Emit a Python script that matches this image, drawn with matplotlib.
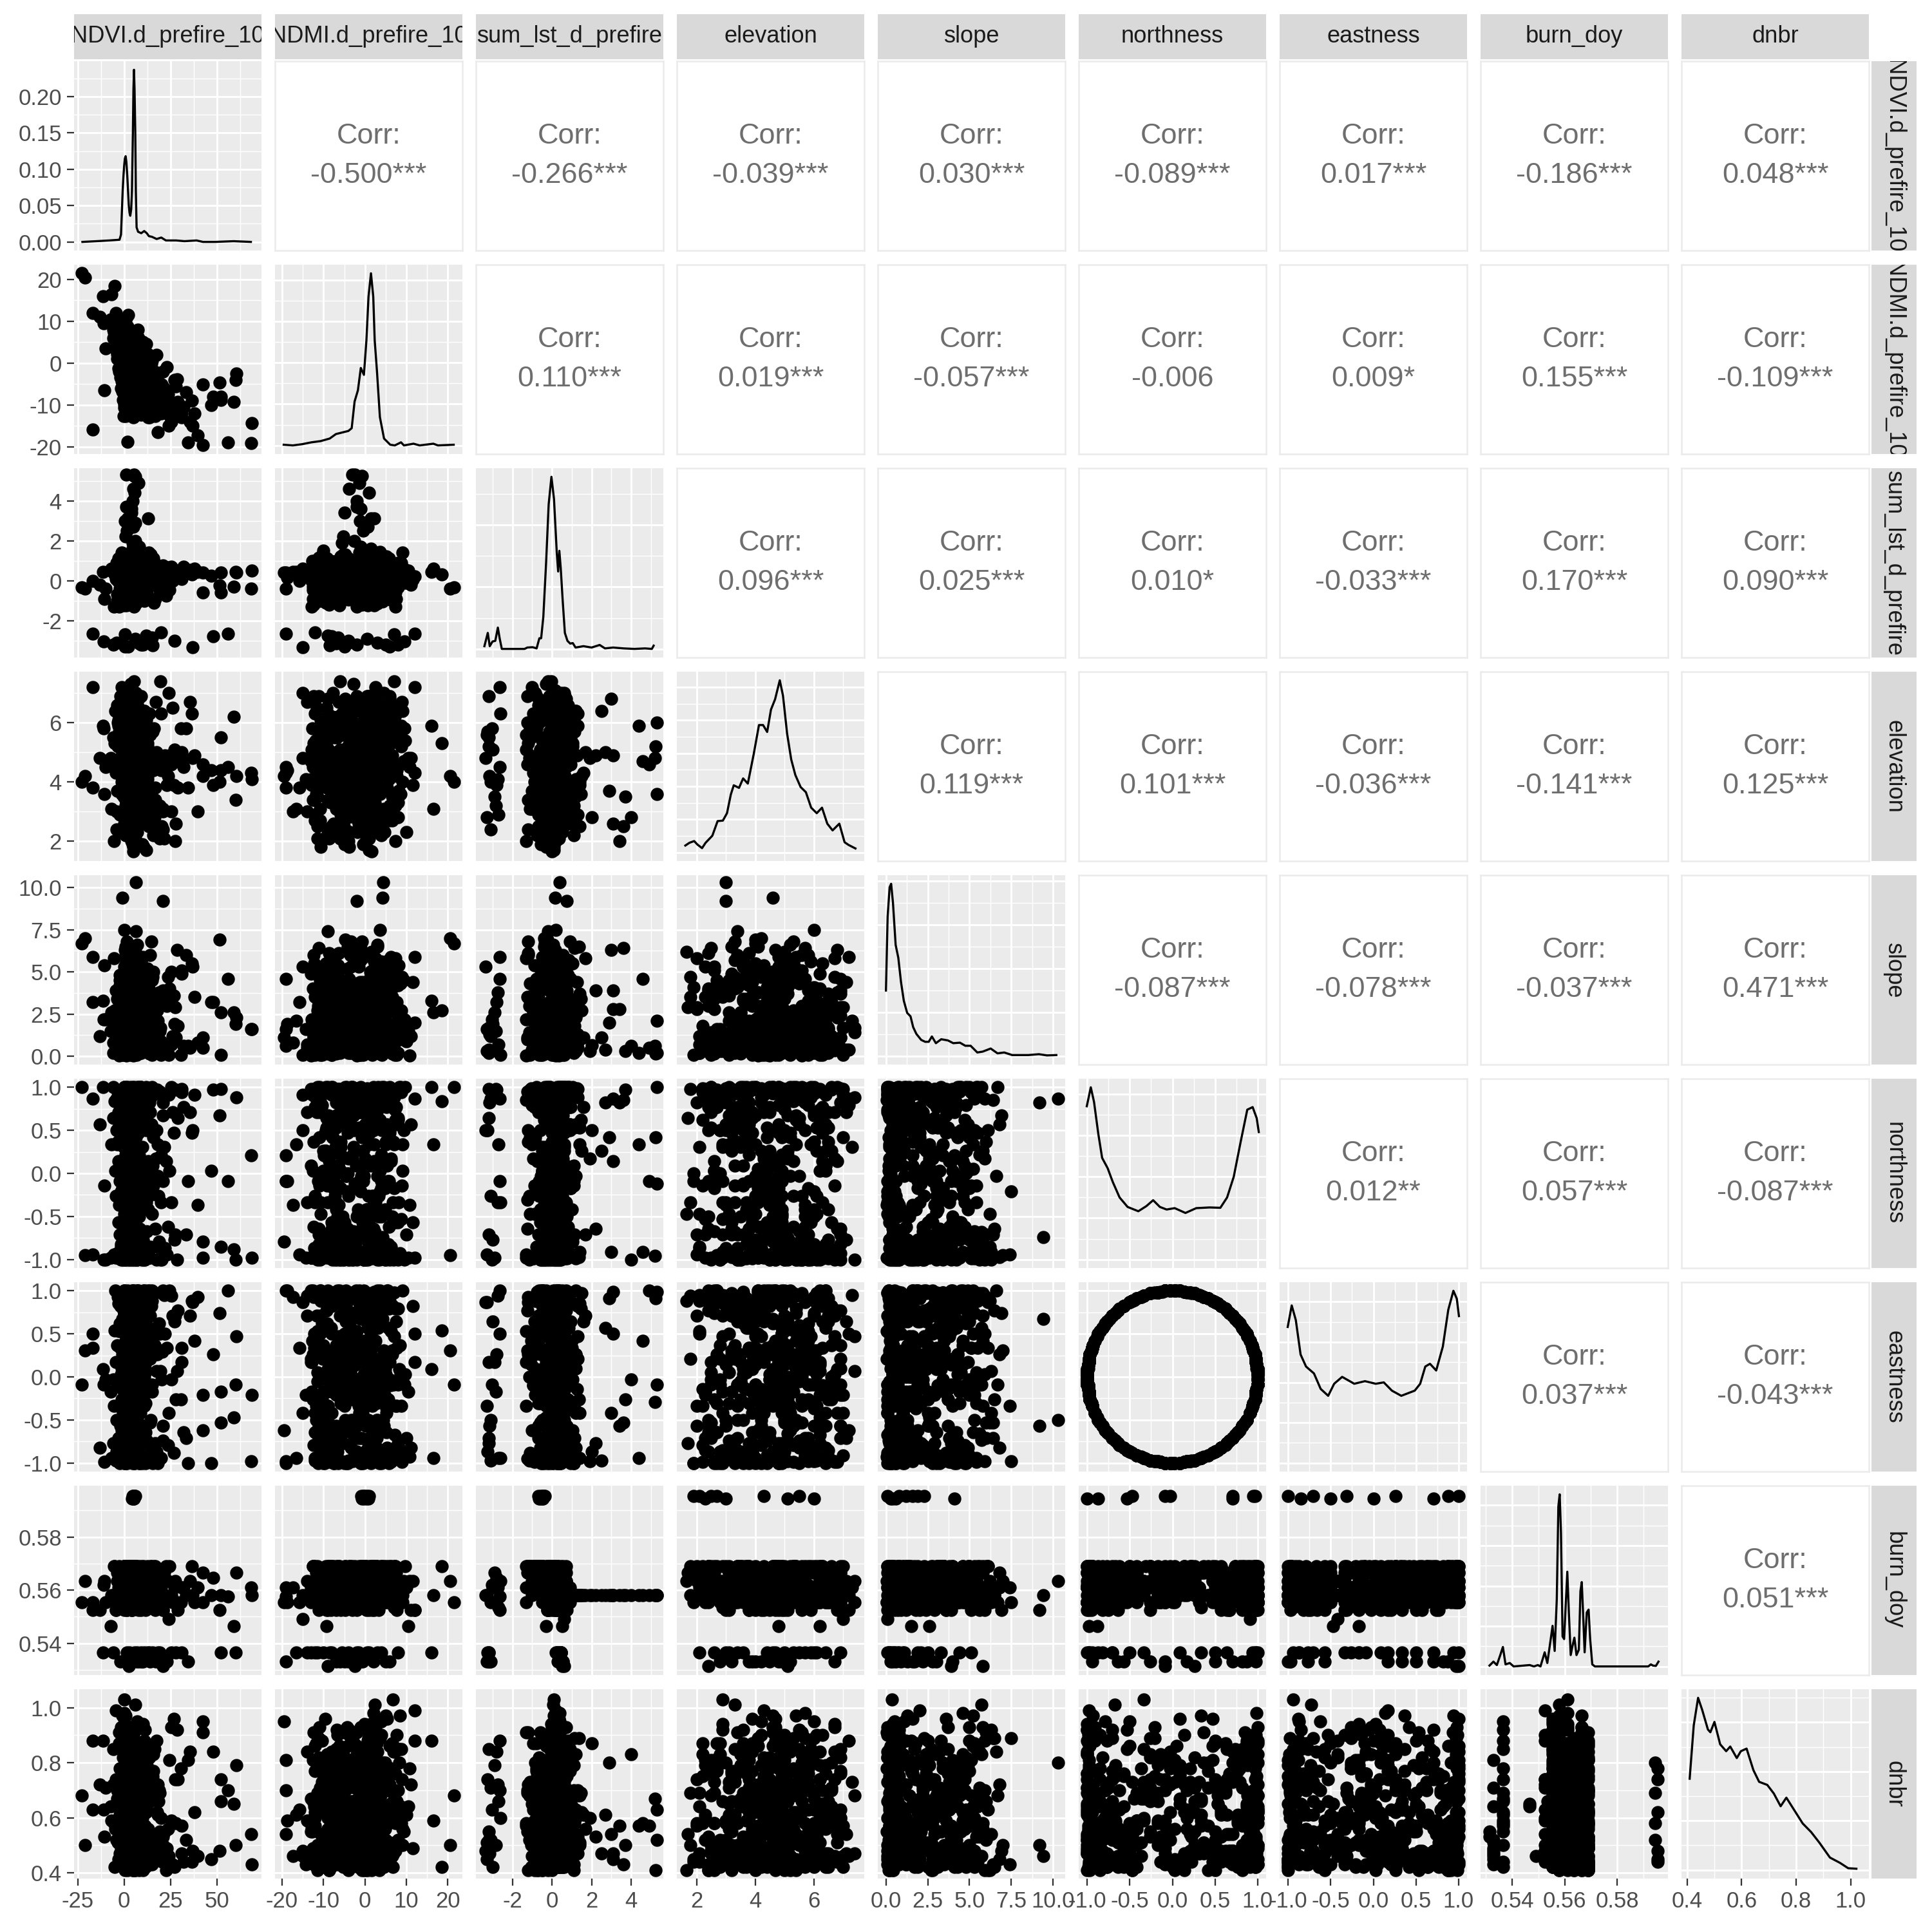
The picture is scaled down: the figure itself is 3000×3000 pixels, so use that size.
import matplotlib
matplotlib.use("Agg")
import matplotlib.pyplot as plt
from matplotlib.ticker import FormatStrFormatter

plt.rcParams['font.family'] = ['Liberation Sans', 'DejaVu Sans']

# ---------------------------------------------------------------- data
var_names = ["NDVI.d_prefire_10", "NDMI.d_prefire_10", "sum_lst_d_prefire",
             "elevation", "slope", "northness", "eastness", "burn_doy", "dnbr"]

# observations: main cloud (200), burn_doy ~0.595 (10), burn_doy ~0.535 (30),
# cold-lst group (14), dense core (240)
ndvi = [
    0.8, 5.2, 11.3, -2.5, 4.6, 0.2, 22.0, 6.1, 1.4, 8.7,
    5.7, -0.6, 3.9, 13.8, 0.5, 6.6, -5.1, 1.1, 4.9, 17.5,
    9.6, 0.0, 5.4, 2.3, -23.0, 4.2, 0.9, 12.4, 6.8, -1.3,
    1.7, 7.4, 0.3, 5.9, 27.5, -3.4, 4.4, 10.2, 0.6, 38.0,
    6.2, -0.9, 14.6, 0.4, 5.0, 3.7, 8.1, -7.2, 1.2, 5.5,
    0.1, 4.8, 19.5, 6.4, -1.8, 52.0, 1.5, 9.1, 4.1, 0.7,
    5.3, 11.9, -0.2, 6.9, 2.0, 4.5, 33.5, 0.9, -4.3, 7.7,
    -17.0, 5.8, 1.0, 15.8, 4.7, -0.4, 6.3, 24.0, 0.2, 9.9,
    4.0, 0.6, 7.1, -2.9, 5.1, 13.1, 1.3, 42.5, 6.0, -0.7,
    1.9, 6.7, -10.8, 4.3, 0.4, 8.4, 5.6, 21.0, -1.1, 3.5,
    0.0, 5.0, 10.7, 1.6, 59.0, 4.9, -6.0, 6.5, 0.8, 16.4,
    7.9, -0.3, 4.6, 2.7, 12.9, 5.7, -21.0, 0.5, 29.0, 6.2,
    1.2, 4.4, -2.2, 9.3, 5.2, 0.3, 36.5, 6.8, 11.0, -0.8,
    5.5, 0.9, 68.8, 3.8, 7.0, -3.8, 1.4, 14.2, 4.8, 0.2,
    -10.0, 6.1, 0.7, 18.6, 5.4, 2.5, -0.5, 8.9, 39.6, 4.2,
    0.6, 51.6, 5.9, -1.5, 12.0, 4.7, 1.8, 25.5, 6.6, -4.9,
    4.5, 0.1, 7.6, 60.5, -0.1, 5.3, 10.4, 1.0, -13.0, 6.0,
    2.9, 5.8, 0.4, 15.1, 4.1, 47.0, -2.6, 6.4, 1.3, 9.5,
    6.9, -0.9, 3.2, 0.6, 20.5, 5.1, 68.3, 11.6, 0.0, 4.6,
    1.1, 31.0, 5.6, -6.8, 8.2, 0.3, 4.0, 13.5, 42.5, 2.1,
    4.6, 5.3, 5.0, 4.8, 5.6, 4.9, 5.2, 4.4, 5.8, 5.1,
    5.5, 14.0, -6.0, 21.0, 1.5, 9.5, 31.0, 3.0, 17.0, 52.0,
    0.5, 12.5, 6.5, 25.5, -11.5, 8.0, 19.0, 2.5, 34.5, 11.0,
    4.5, 60.0, 15.5, -2.0, 28.0, 7.0, 23.0, 13.5, 10.0, 18.0,
    -17.0, 2.0, 12.0, -4.0, 20.0, 6.0, 37.0, 0.5, 27.0, 48.0, 9.0, 56.0, 15.0, -11.0,
    3.2, -1.8, 8.8, 0.4, 12.6, 5.9, -3.5, 2.4, 16.8, 6.3,
    0.9, 10.1, 4.4, -0.2, 7.3, 1.8, 14.9, 5.1, -2.7, 9.2,
    6.6, 2.2, -1.0, 11.4, 3.9, 0.6, 7.9, 19.8, 4.7, 1.5,
    -3.0, 8.1, 5.6, 13.3, 0.2, 6.9, 2.8, -1.4, 10.8, 4.2,
    7.2, 0.5, 17.9, 3.6, 9.9, -0.7, 5.3, 1.2, 26.0, 8.5,
    2.0, 12.2, 6.1, -2.1, 4.9, 15.4, 0.8, 7.6, 3.3, 11.7,
    5.8, -0.4, 9.5, 1.9, 6.4, 22.5, 3.0, -4.0, 8.3, 0.1,
    13.9, 4.5, 0.3, 7.0, -1.6, 10.5, 5.4, 2.6, 18.7, 6.2,
    1.4, 8.9, 3.7, 32.0, 0.7, 6.7, 11.1, -2.4, 4.0, 9.7,
    7.8, 2.9, 14.3, 5.0, -0.9, 1.0, 12.8, 6.0, 3.4, 20.9,
    -1.2, 6.8, 4.1, 9.0, 1.6, 16.1, 5.5, 0.0, 7.4, 28.5,
    4.8, 11.9, -2.9, 3.1, 8.6, 0.4, 6.5, 13.0, 2.3, 5.7,
    2.7, 9.4, -0.5, 5.0, 15.7, 1.1, 7.5, -3.8, 4.3, 23.8,
    6.0, 0.2, 11.6, 3.4, -1.6, 8.0, 4.6, 18.2, 1.8, 6.9,
    -2.3, 5.2, 13.7, 0.9, 7.1, 2.5, 10.3, 5.9, -4.6, 16.9,
    4.1, 8.7, 1.4, 21.7, 6.2, -0.8, 3.0, 12.1, 5.6, 0.4,
    9.8, 2.1, 6.7, -2.0, 14.5, 4.4, 0.7, 7.9, 30.5, 3.7,
    1.0, 6.4, 17.4, 4.8, 10.9, -1.1, 5.3, 2.8, 8.4, 35.5,
    7.0, -3.2, 3.6, 12.7, 0.5, 5.8, 9.1, 1.7, 19.3, 4.9,
    0.0, 11.3, 6.1, 2.2, -0.3, 15.0, 4.0, 8.2, 1.3, 26.8,
    5.4, 3.1, -1.9, 9.6, 6.8, 0.6, 13.3, 2.4, 7.3, -5.5,
    12.4, 4.7, 1.5, 6.5, 20.1, 3.3, -0.9, 10.0, 5.1, 0.3,
    8.5, 0.8, 5.7, 14.0, 2.9, 7.7, -2.6, 4.2, 11.0, 1.9,
    3.9, 16.3, 6.3, 0.1, 9.0, 4.5, 2.0, 24.5, -1.3, 7.6,
]
ndmi = [
    3.1, -2.4, -6.8, 4.0, 1.5, 7.2, -8.0, -0.6, 2.2, -4.5,
    0.9, 5.8, -3.7, -9.5, -1.2, 2.5, 18.5, 10.8, -10.6, 2.0,
    -2.9, 1.8, -7.5, 0.4, 21.5, 3.6, -5.2, -12.1, 1.2, 2.5,
    -18.8, -5.9, 4.6, -1.6, -4.0, 5.0, 7.6, -0.2, -8.3, -12.0,
    -11.2, 8.4, -3.3, 0.0, 2.9, -6.6, 3.3, 10.5, -2.0, -4.8,
    -9.8, 0.6, -6.0, 4.4, -1.0, -8.8, 6.5, -8.2, 1.9, -3.4,
    -0.8, 1.0, -12.6, -3.1, 11.5, -5.5, -7.0, 3.9, 12.0, 0.3,
    -15.8, 2.7, -6.1, -11.0, -1.9, 0.8, -9.0, -15.0, 5.4, -5.0,
    3.2, -4.2, 6.0, 8.0, -13.0, -1.4, -0.4, -5.1, -7.0, -8.8,
    1.4, -0.1, -6.5, -8.6, 9.6, -10.2, 4.8, -2.0, 0.2, -2.7,
    6.8, -3.9, -11.7, -10.9, -9.2, 1.6, 6.0, -5.3, -0.9, -7.0,
    -1.0, -7.1, 0.5, 3.4, 2.2, -12.4, 20.5, 2.8, -9.2, 5.6,
    -3.0, 2.3, 10.0, -9.7, -4.4, 1.1, -9.0, -1.7, 0.7, 4.2,
    1.4, -10.4, -14.3, -5.0, 3.0, 1.0, 0.3, -4.7, -8.1, 2.0,
    3.5, -2.6, 5.0, -12.0, 7.0, -3.5, -1.4, 1.7, -17.3, -6.0,
    -2.3, -4.7, -4.0, 6.0, -7.8, 0.0, 8.8, -11.0, -11.5, 9.0,
    5.2, -5.6, -1.3, -2.5, 3.6, -9.1, -3.8, 1.5, 11.0, 2.4,
    -7.9, 0.1, -0.5, 0.6, -12.0, -10.0, -2.0, -6.3, 4.5, 2.8,
    -2.2, -3.6, 1.2, 7.9, -10.0, -0.3, -19.1, -5.8, -1.5, 4.1,
    0.4, -13.0, -6.4, 16.5, -3.0, -10.8, -1.1, 0.9, -19.5, 5.9,
    -0.4, 0.3, -0.9, 0.8, 0.1, -0.2, 0.5, -0.7, 1.0, -0.3,
    -1.5, -6.0, 8.0, -9.0, 3.0, -4.0, -12.0, 0.5, -3.0, -8.0,
    6.0, -10.0, 2.0, -14.0, 16.0, -7.0, -11.5, -2.5, -19.0, 1.0,
    -5.0, -4.0, -8.5, -0.5, -5.5, 4.0, -1.0, -13.0, 5.0, -16.5,
    12.0, -5.0, -9.0, 3.0, -12.0, 0.5, -15.0, 7.0, -4.0, -8.0, -2.0, -19.0, -6.5, 9.5,
    -4.5, 6.2, -8.4, 2.9, -6.1, 1.8, 8.7, -7.8, -11.2, -0.5,
    4.9, -2.3, -9.6, 0.7, 3.6, -3.9, -8.0, 5.5, 2.0, -12.3,
    -6.8, 7.5, -1.9, -4.1, 1.3, -10.2, -2.6, -5.7, 3.8, -0.8,
    5.4, -9.0, 0.2, -7.2, -4.8, 6.6, 2.6, 9.1, -10.8, -3.1,
    2.1, -7.4, -3.3, 4.4, -5.9, 1.0, -12.8, 8.1, -11.6, -1.2,
    -2.9, -11.0, 5.1, 7.7, -0.2, -6.5, -5.4, -8.9, 3.0, 0.9,
    -4.0, 3.2, 1.7, -9.3, -1.8, -8.6, 6.9, 4.1, -6.3, -3.6,
    -1.5, 2.4, 0.5, -11.8, -6.0, -4.6, 7.3, -2.2, -9.1, -7.7,
    8.3, -0.6, -5.0, -10.5, -12.4, 4.3, -7.5, 1.4, -8.2, 2.7,
    -3.8, -9.9, -5.2, 6.1, 3.9, -1.0, 0.3, -10.1, 1.1, -6.9,
    -4.3, 0.1, -7.0, -2.7, 5.8, -9.4, -3.3, -6.7, 7.9, -3.9,
    -1.1, 4.6, 3.4, -11.5, -8.1, 0.6, 5.2, -12.9, -4.1, 2.2,
    1.5, -5.2, 6.8, -2.4, -9.1, 3.9, -11.9, 2.2, -6.6, -7.4,
    -0.3, -2.8, -12.0, 7.1, 4.5, -3.3, 2.7, -4.4, -8.7, 5.0,
    9.4, -7.9, -5.5, 0.3, -10.6, 5.6, 1.4, -4.7, 3.3, -12.6,
    -1.7, 2.0, -10.3, -6.0, 6.3, -5.9, -3.7, -8.3, 0.8, 8.0,
    -6.9, 4.2, -12.2, 1.9, 0.0, -3.0, -7.6, 3.5, -10.4, 6.5,
    -4.8, 1.2, -7.3, 5.3, -2.1, 2.9, -9.4, -0.7, -11.3, -14.0,
    4.7, -1.3, -5.8, -9.9, 8.6, -2.5, 0.6, -11.1, -6.4, 2.5,
    -8.0, -3.9, 7.4, -4.2, 3.0, -10.9, 1.0, -6.2, 5.7, -9.6,
    -9.5, 3.7, -3.4, 0.4, -1.9, -12.7, -2.9, 6.9, -7.0, 7.3,
    -0.9, -11.4, 8.9, -4.6, -5.1, 1.8, -6.8, -8.5, 4.0, -2.6,
    0.9, -1.0, -8.8, -3.6, -12.4, 6.0, 2.8, -5.3, -10.0, 4.8,
    6.2, -2.0, -4.3, -10.7, 3.1, -7.8, 0.2, -12.5, 1.6, -9.2,
]
sum_lst = [
    -0.1, 5.3, 0.35, -0.4, 1.6, 0.05, 0.6, 0.3, -0.2, 0.45,
    4.4, 0.1, -0.7, 0.5, 3.0, -0.05, 0.3, 0.2, -0.3, 0.8,
    0.4, -0.15, 0.0, 0.55, -0.35, 0.25, 2.2, 0.7, 0.35, -1.0,
    0.15, 0.45, -0.25, 5.2, 0.2, 0.0, 0.4, -0.5, 0.1, 0.6,
    -0.05, 0.3, 0.9, -0.6, 0.35, 0.05, -0.1, 0.5, 3.7, 1.3,
    0.25, 2.7, -0.2, 0.4, 0.0, -0.6, 0.7, 0.15, -0.45, 0.35,
    5.25, 0.1, -0.3, 0.45, 0.05, 1.9, 0.55, -0.75, 0.2, -0.1,
    0.0, 0.4, -1.25, 0.3, 4.0, 0.1, -0.2, 0.6, 0.35, 0.05,
    0.5, -0.4, 0.25, 0.0, 0.35, 1.4, 2.5, -0.6, 0.15, -0.05,
    3.1, 0.3, -0.9, 0.2, -0.1, 0.45, 0.05, 0.75, 0.4, -0.3,
    0.1, 4.6, 0.35, -0.5, -0.3, 0.0, 0.6, 0.25, -0.15, 0.9,
    1.7, 0.45, 0.05, -0.35, 3.1, 0.3, -0.4, 0.1, 0.5, -0.05,
    5.3, 0.2, 0.4, -0.2, 0.65, 0.0, 0.3, -1.1, 0.35, 0.15,
    -0.25, 0.5, 0.5, 3.4, 0.05, -0.7, 0.35, 0.2, 0.0, 0.4,
    -0.4, 2.0, 0.1, 0.3, -0.05, 0.55, 0.25, -0.3, 0.45, 0.0,
    0.35, -0.25, 1.1, 0.15, 0.4, -0.1, 0.05, 0.7, -0.55, 0.3,
    0.0, 0.45, 4.9, 0.4, 0.2, -0.35, 0.1, 0.6, -0.2, 0.05,
    0.3, 2.9, -0.1, 0.5, 0.35, 0.25, -1.3, 0.0, 0.45, -0.6,
    0.15, 0.4, -0.05, 0.2, 0.55, 1.2, -0.4, 0.3, 0.0, 0.35,
    -0.2, 0.1, 0.45, 0.6, 0.05, -0.3, 3.6, 0.25, 0.4, -0.15,
    -0.55, -0.45, -0.7, -0.5, -0.4, -0.6, -0.35, -0.65, -0.5, -0.45,
    0.4, 0.3, -3.2, 0.5, 0.35, -3.1, 0.45, 0.25, 0.55, 0.4,
    -3.3, 0.3, 0.5, 0.2, 0.45, -3.15, 0.35, 0.6, 0.4, 0.3,
    0.5, 0.45, -3.25, 0.35, 0.4, 0.25, 0.55, 0.3, -3.2, 0.45,
    -2.65, -3.3, -2.75, -3.1, -2.6, -2.9, -3.35, -2.7, -3.0, -2.8, -3.2, -2.65, -2.85, -3.05,
    0.6, -0.8, 0.15, 1.2, -0.3, 0.45, 0.9, -1.1, 0.3, -0.05,
    -0.5, 0.75, 0.2, -1.25, 1.45, 0.0, 0.55, -0.65, 0.35, 1.0,
    0.1, -0.9, 0.65, 0.4, -0.2, 1.3, -0.45, 0.25, 0.8, -1.2,
    1.1, 0.05, -0.7, 0.5, 0.85, -0.35, 0.3, 1.4, -1.0, 0.2,
    -0.15, 0.95, 0.4, -0.85, 0.6, 0.1, -1.3, 0.7, 0.0, 1.25,
    0.45, -0.55, 1.15, 0.2, -1.05, 0.35, 0.75, -0.25, 1.35, -0.6,
    -0.95, 0.3, -0.1, 1.05, 0.5, -0.75, 0.25, 0.9, -0.4, 0.65,
    0.8, -1.15, 0.55, -0.3, 0.15, 1.2, -0.6, 0.4, 0.05, -0.85,
    0.25, 1.4, -0.5, 0.7, -1.2, 0.35, 0.95, -0.05, 0.6, -0.7,
    -0.35, 0.5, 1.3, -0.95, 0.2, 0.85, -0.15, 1.5, -0.8, 0.4,
    0.7, -0.2, 0.1, 0.55, 1.1, -1.1, 0.3, -0.5, 0.9, 0.15,
    -0.65, 1.0, 0.45, -0.1, 0.75, -0.9, 1.2, 0.0, 0.5, -1.25,
    0.2, -0.6, 0.5, 0.05, 1.1, -0.25, 0.4, -1.0, 0.3, 0.65,
    -0.4, 0.35, 0.9, -0.1, 0.55, -0.8, 0.15, 0.45, -1.2, 0.0,
    0.6, -0.3, 0.25, 1.0, -0.55, 0.4, -0.05, 0.7, 0.1, -0.9,
    -0.15, 0.8, 0.3, -0.45, 0.5, 1.2, -0.7, 0.2, 0.45, -0.35,
    0.35, -1.05, 0.0, 0.65, -0.2, 0.5, 0.95, -0.5, 0.25, 0.1,
    -0.75, 0.45, 0.15, -0.3, 0.7, 0.0, 1.05, -0.6, 0.35, 0.55,
    0.4, 0.05, -0.85, 0.3, 0.6, -0.15, 0.25, 1.15, -0.45, 0.5,
    0.1, 0.75, -0.4, 0.5, -1.15, 0.35, 0.0, -0.25, 0.85, 0.3,
    -0.5, 0.2, 0.6, -0.7, 0.4, 1.0, -0.1, 0.3, 0.55, -1.3,
    0.45, -0.2, 0.35, 0.95, 0.0, -0.65, 0.5, 0.15, -0.35, 0.7,
    0.25, 1.1, -0.55, 0.4, -0.05, 0.6, -0.95, 0.3, 0.1, 0.5,
    -0.25, 0.5, 0.05, -0.8, 0.35, 0.8, 0.2, -0.45, 1.2, 0.0,
]
elevation = [
    4.8, 3.6, 5.5, 2.9, 4.3, 6.2, 4.9, 3.2, 5.1, 4.6,
    5.9, 4.1, 2.3, 4.7, 6.8, 3.9, 5.3, 4.5, 1.8, 5.0,
    3.4, 5.6, 4.8, 6.5, 4.0, 2.6, 4.9, 5.2, 3.7, 7.2,
    4.4, 5.8, 3.1, 4.8, 2.0, 6.0, 4.2, 5.4, 3.8, 4.9,
    6.9, 4.6, 3.3, 5.1, 4.0, 2.4, 5.7, 4.8, 3.5, 6.3,
    4.2, 5.0, 7.4, 3.0, 4.7, 5.5, 2.7, 4.9, 6.1, 3.6,
    5.2, 1.7, 4.5, 6.6, 3.9, 4.8, 5.8, 2.2, 4.3, 5.0,
    3.8, 4.9, 6.0, 4.4, 2.8, 5.3, 3.4, 7.0, 4.7, 1.9,
    5.6, 3.2, 4.8, 5.9, 4.1, 2.5, 6.4, 4.6, 3.7, 5.1,
    4.9, 6.7, 3.6, 2.1, 5.4, 4.3, 4.8, 3.0, 5.8, 7.3,
    2.9, 4.7, 5.2, 3.9, 6.2, 1.65, 4.5, 5.6, 4.0, 3.3,
    5.0, 3.5, 6.9, 4.8, 2.6, 5.3, 4.2, 7.1, 3.8, 4.9,
    6.0, 4.4, 2.3, 5.5, 3.9, 4.8, 6.3, 3.1, 5.0, 4.6,
    3.6, 5.8, 4.1, 2.0, 5.2, 6.6, 4.7, 3.4, 4.9, 5.7,
    4.5, 2.8, 5.4, 4.9, 7.4, 3.7, 4.3, 6.1, 3.0, 5.1,
    5.3, 4.0, 3.2, 6.8, 4.8, 2.4, 5.9, 4.6, 3.5, 6.4,
    2.7, 5.0, 4.6, 4.2, 6.0, 3.9, 1.8, 5.5, 4.8, 3.3,
    6.2, 3.7, 5.1, 4.9, 2.9, 4.4, 5.6, 3.8, 7.0, 4.7,
    4.1, 6.5, 2.2, 5.4, 4.8, 3.5, 4.3, 5.9, 2.6, 5.2,
    3.9, 4.8, 6.7, 3.1, 5.0, 4.5, 2.5, 5.7, 4.2, 6.9,
    1.9, 2.3, 2.5, 3.0, 4.3, 5.1, 5.5, 6.0, 2.1, 2.7,
    4.6, 3.2, 5.5, 2.4, 6.1, 4.0, 5.0, 3.6, 6.7, 4.4,
    2.8, 5.3, 4.8, 3.0, 5.9, 4.2, 2.1, 5.1, 3.8, 6.4,
    4.9, 3.4, 5.7, 4.5, 2.6, 6.0, 3.9, 4.7, 5.2, 3.1,
    7.2, 5.6, 4.1, 2.4, 6.3, 3.5, 4.8, 2.9, 5.1, 3.9, 6.9, 4.5, 3.2, 5.8,
    4.6, 5.8, 3.3, 6.4, 4.1, 2.7, 5.2, 4.9, 3.8, 6.0,
    5.4, 3.0, 4.5, 6.9, 3.6, 5.0, 2.5, 4.3, 5.7, 4.0,
    3.9, 6.3, 5.1, 2.8, 4.7, 5.9, 3.4, 4.4, 6.6, 5.3,
    6.1, 4.2, 2.4, 5.6, 4.8, 3.5, 6.7, 4.0, 3.1, 5.0,
    3.2, 5.5, 4.6, 6.2, 2.9, 4.3, 5.1, 3.7, 6.5, 4.9,
    5.0, 2.6, 6.0, 4.4, 5.7, 3.3, 4.9, 6.8, 4.1, 3.6,
    4.3, 6.4, 3.8, 5.2, 2.3, 4.7, 5.9, 3.0, 4.5, 6.2,
    2.8, 4.8, 5.4, 3.6, 6.1, 4.1, 3.2, 5.8, 4.6, 7.0,
    5.6, 3.9, 6.6, 4.5, 3.4, 5.3, 2.6, 4.8, 6.0, 3.8,
    4.0, 5.1, 2.9, 6.3, 4.6, 3.5, 5.7, 4.2, 6.9, 3.1,
    6.5, 3.7, 5.0, 4.3, 2.7, 5.8, 4.1, 6.2, 3.3, 4.7,
    3.5, 6.1, 4.4, 2.5, 5.5, 4.0, 6.4, 3.9, 5.2, 4.6,
    5.7, 3.1, 4.4, 6.6, 2.2, 4.9, 5.4, 3.7, 6.1, 4.2,
    3.5, 6.0, 2.7, 4.6, 5.3, 3.9, 7.1, 4.8, 2.4, 5.6,
    4.7, 2.5, 6.3, 3.8, 5.0, 4.3, 2.9, 6.8, 4.5, 3.4,
    6.5, 4.0, 5.2, 2.1, 4.8, 5.9, 3.6, 4.4, 6.2, 2.8,
    3.3, 5.5, 4.1, 6.9, 3.0, 5.1, 4.6, 2.6, 5.8, 4.9,
    5.9, 2.9, 4.7, 3.8, 6.4, 4.2, 5.3, 3.1, 4.9, 6.7,
    2.3, 4.5, 6.0, 5.0, 3.6, 6.6, 4.0, 5.7, 3.2, 4.8,
    4.9, 6.2, 3.5, 4.3, 5.6, 2.7, 6.9, 4.1, 5.2, 3.9,
    6.1, 3.7, 5.4, 2.9, 4.6, 5.8, 3.3, 6.5, 4.4, 2.0,
    4.2, 5.0, 6.7, 3.4, 2.5, 4.8, 5.5, 3.9, 6.3, 4.5,
    3.8, 6.4, 4.1, 5.6, 6.9, 3.2, 4.7, 2.4, 5.1, 6.0,
    5.3, 2.8, 4.6, 6.1, 3.7, 5.7, 2.2, 4.9, 3.6, 6.5,
]
slope = [
    0.3, 2.1, 0.6, 4.2, 1.1, 0.1, 3.3, 0.5, 5.6, 1.8,
    0.2, 3.8, 1.4, 0.4, 6.3, 0.9, 2.7, 0.05, 4.7, 1.2,
    0.7, 5.1, 0.3, 2.4, 6.7, 0.15, 3.9, 0.8, 1.6, 0.4,
    1.9, 0.25, 4.5, 0.6, 2.9, 1.0, 0.1, 5.9, 0.35, 3.5,
    0.5, 1.3, 6.8, 0.2, 2.2, 4.0, 0.7, 1.5, 0.3, 3.1,
    4.8, 0.4, 1.7, 10.3, 0.1, 2.6, 0.9, 3.6, 0.6, 5.3,
    0.15, 2.9, 0.5, 1.2, 4.4, 0.3, 6.0, 0.8, 2.0, 0.45,
    3.2, 0.2, 1.0, 5.0, 0.6, 2.3, 7.4, 0.1, 1.6, 4.1,
    0.9, 6.5, 0.3, 2.5, 0.05, 3.7, 1.1, 0.5, 4.9, 1.4,
    2.8, 0.4, 5.4, 0.7, 1.9, 0.2, 3.4, 9.2, 0.55, 2.1,
    0.35, 4.6, 1.3, 0.1, 2.6, 6.2, 0.8, 3.0, 0.25, 1.7,
    5.8, 0.6, 2.4, 0.15, 3.9, 1.2, 7.0, 0.4, 1.8, 0.7,
    0.2, 3.3, 0.9, 4.3, 0.5, 2.0, 5.5, 0.1, 1.5, 9.4,
    1.0, 0.3, 1.6, 2.8, 6.6, 0.45, 3.6, 1.3, 0.2, 4.6,
    2.2, 0.65, 5.2, 0.3, 1.4, 3.1, 0.1, 4.0, 0.8, 2.5,
    0.4, 6.9, 0.2, 3.8, 1.1, 0.6, 2.7, 5.0, 0.3, 1.9,
    4.2, 1.5, 0.5, 2.3, 7.5, 0.15, 3.5, 0.7, 1.2, 5.7,
    0.6, 2.0, 4.4, 0.3, 1.0, 3.2, 0.05, 6.1, 2.9, 0.5,
    3.0, 0.2, 1.8, 4.7, 0.4, 2.4, 1.6, 0.9, 5.3, 0.1,
    1.3, 4.9, 0.35, 2.6, 3.4, 0.8, 6.4, 0.2, 1.1, 3.9,
    0.1, 0.4, 0.8, 0.3, 1.9, 0.6, 2.3, 4.1, 1.2, 1.6,
    0.5, 2.2, 0.2, 3.9, 1.0, 0.3, 5.1, 0.8, 2.8, 0.1,
    1.6, 4.4, 0.4, 0.7, 3.3, 1.3, 0.2, 5.8, 0.6, 2.5,
    0.9, 1.9, 0.3, 4.0, 1.1, 0.5, 3.0, 0.15, 1.7, 2.1,
    5.9, 0.3, 3.8, 1.2, 0.1, 2.6, 5.3, 0.7, 1.9, 3.2, 0.4, 4.6, 1.5, 2.2,
    1.4, 3.9, 0.2, 2.6, 5.2, 0.8, 1.9, 4.3, 0.5, 3.0,
    2.3, 0.4, 4.8, 1.1, 3.4, 6.2, 0.1, 2.8, 1.6, 5.5,
    0.6, 2.0, 3.7, 0.3, 5.0, 1.3, 4.1, 0.9, 2.5, 6.8,
    3.3, 1.7, 0.45, 4.6, 2.1, 0.15, 5.8, 1.0, 3.6, 0.7,
    4.9, 0.3, 2.7, 1.5, 0.6, 3.8, 2.2, 5.4, 1.2, 4.4,
    0.9, 5.1, 1.8, 3.2, 0.25, 4.7, 1.4, 2.4, 6.5, 0.5,
    2.6, 0.7, 4.2, 1.9, 3.5, 0.4, 5.6, 1.1, 2.9, 4.0,
    0.35, 3.0, 1.2, 5.3, 0.8, 2.3, 4.5, 0.2, 3.8, 1.7,
    4.4, 1.0, 2.8, 0.6, 6.0, 1.5, 3.4, 4.8, 0.3, 2.1,
    1.6, 4.1, 0.5, 3.1, 1.9, 5.7, 0.9, 2.7, 4.6, 0.15,
    3.7, 0.8, 5.0, 2.2, 0.4, 3.3, 1.3, 4.9, 2.0, 6.3,
    0.7, 2.5, 3.9, 1.4, 4.3, 0.2, 2.9, 1.8, 5.2, 3.5,
    2.9, 0.5, 4.1, 1.2, 0.3, 5.6, 2.0, 3.4, 0.8, 4.7,
    0.2, 3.6, 1.5, 5.0, 2.6, 0.7, 4.4, 1.1, 6.1, 0.4,
    4.5, 1.0, 0.3, 3.1, 1.8, 5.4, 0.6, 2.3, 3.9, 1.4,
    1.7, 4.8, 2.5, 0.2, 5.9, 1.3, 3.3, 0.9, 2.1, 4.2,
    0.6, 2.2, 5.2, 3.7, 0.4, 1.9, 4.6, 2.8, 0.1, 3.5,
    3.8, 0.3, 1.6, 4.9, 2.4, 0.8, 5.5, 1.2, 3.0, 0.5,
    5.3, 1.8, 0.7, 2.7, 4.3, 3.2, 0.2, 6.4, 1.5, 2.0,
    1.0, 3.9, 2.6, 0.5, 1.4, 4.5, 2.9, 0.3, 5.7, 3.6,
    2.4, 5.1, 0.9, 3.5, 0.6, 2.1, 4.0, 1.6, 3.1, 5.8,
    0.4, 2.7, 4.7, 1.3, 3.4, 0.1, 1.9, 5.2, 0.7, 4.3,
    3.2, 0.6, 2.0, 6.0, 1.1, 4.1, 0.4, 3.0, 2.5, 1.8,
    4.6, 1.5, 3.7, 0.8, 5.4, 2.2, 1.0, 4.0, 0.3, 2.8,
]
northness = [
    0.98, -0.12, -1.00, -0.09, 0.77, 0.74, -0.87, 0.26, -0.75, 1.00,
    0.34, -0.62, 0.98, 0.50, -0.91, -0.99, 0.84, -0.37, -0.34, 0.50,
    -1.00, 0.94, 0.09, -0.77, 1.00, 0.03, -0.64, -0.97, 0.67, 0.79,
    -0.09, -0.17, 1.00, -0.96, -0.71, 0.37, 0.94, -1.00, 0.22, 0.91,
    -0.82, -0.93, 0.57, 0.17, 0.99, -0.50, -0.50, -0.98, 0.97, 0.57,
    0.00, 0.82, -1.00, 0.87, -0.21, -0.85, 0.97, -0.82, -0.26, -0.99,
    0.42, 0.64, -0.97, 1.00, -0.57, 0.17, -0.71, 0.99, -0.98, 0.74,
    -0.94, -0.42, 0.95, 0.42, -1.00, -0.26, -0.94, 0.91, 0.09, 0.00,
    0.97, -0.64, 0.98, -0.57, -0.98, 0.53, 0.26, -0.98, -0.42, 0.67,
    0.87, -1.00, -0.14, -0.85, 1.00, -0.77, -0.17, 0.82, -1.00, 0.31,
    -0.34, -0.91, 0.94, 0.71, -0.88, -0.47, 1.00, -1.00, -0.03, 0.93,
    -0.71, 0.31, 0.99, -0.99, 0.14, -0.62, -0.95, 0.71, 0.64, -0.97,
    1.00, -0.26, -0.71, 0.97, -0.98, 0.47, 0.47, -0.47, -1.00, -0.74,
    0.09, 0.79, -0.98, 0.82, -0.03, -0.93, 0.98, -0.87, -0.57, 0.99,
    -1.00, 0.50, 0.34, -0.26, 0.88, -0.82, 0.91, -0.94, -0.37, 0.98,
    -0.82, 0.67, -0.97, 0.14, 1.00, -0.64, -0.53, 1.00, -1.00, 0.03,
    0.77, -0.99, -0.09, 0.88, -0.21, -0.98, 0.98, -0.80, 0.57, -0.68,
    -1.00, 0.42, 0.95, -0.47, -0.91, 0.03, 0.85, -0.94, 0.98, -0.42,
    -0.17, -0.99, 0.62, 0.62, -0.96, 0.97, 0.21, -0.95, -0.67, 1.00,
    -0.50, 0.98, -0.88, 0.34, 0.21, -1.00, 0.85, 0.82, -0.79, -1.00,
    -0.09, -0.53, 0.71, -0.87, 0.95, -1.00, 0.97, 0.71, -0.47, -0.03,
    -0.94, 0.71, 0.64, -0.09, -0.98, -0.26, 0.94, -0.71, 0.17, 0.98,
    0.50, -0.98, -0.64, -0.34, 1.00, 0.82, -0.87, 0.26, -0.09, -0.82,
    0.87, -1.00, 0.50, -0.57, 0.97, -0.50, -0.94, 0.09, 0.98, 0.34,
    0.87, -0.94, -0.34, 0.87, -0.34, -0.98, 0.50, 0.34, -0.77, 0.97, -0.71, -0.09, 0.98, -1.00,
    0.93, -0.85, -0.14, 0.57, 0.05, -0.95, 0.94, 0.42, -0.64, -0.45,
    -1.00, 0.99, 0.26, -0.64, 0.62, -0.85, 1.00, -0.09, -0.37, -0.94,
    0.64, 0.77, -0.99, 0.00, -0.77, 0.98, -0.71, 0.21, 0.97, -0.97,
    0.53, -0.94, 0.82, -0.26, 1.00, -0.50, -0.91, 0.34, 0.87, -1.00,
    -0.71, -0.03, 0.97, -0.98, 0.31, 0.71, -0.98, -0.34, 0.71, 0.99,
    -0.87, -0.14, 0.93, -0.94, 0.91, 0.09, -0.50, 1.00, -0.97, 0.50,
    0.17, -0.82, 0.82, -0.79, 0.98, 0.14, -1.00, 0.50, -0.37, 0.98,
    -0.98, -0.26, 0.67, 0.87, -1.00, -0.03, -0.57, 0.95, -0.79, 0.42,
    1.00, -0.91, -0.57, 0.77, 0.37, -0.99, -0.17, 0.79, -0.82, 0.95,
    -0.88, 0.21, 0.88, -0.99, -0.17, 1.00, -0.42, 0.26, -0.93, 0.67,
    -0.97, 0.57, 0.98, -0.67, -0.09, 0.97, -0.77, 0.03, 0.57, -1.00,
    0.74, -0.95, 0.14, 1.00, -0.67, -0.47, 0.91, -0.98, 0.47, -0.31,
    0.84, -0.95, -0.57, 0.98, -0.14, 0.22, -0.91, 0.34, 0.98, -0.62,
    -1.00, 0.67, 0.77, -0.17, -0.82, 1.00, -0.77, -0.03, 0.50, -1.00,
    0.50, -0.98, 0.94, -0.42, -0.03, 0.95, -0.98, -0.64, -0.26, 0.97,
    -0.42, 1.00, -0.91, 0.31, 0.17, -0.97, 0.79, -0.67, 0.64, -1.00,
    -0.34, 0.99, -0.87, 0.82, 0.57, -0.97, -0.17, 0.03, 0.97, -0.95,
    0.88, -0.53, -1.00, 0.57, 0.09, -0.87, 1.00, -0.50, -0.09, 0.71,
    -0.98, 0.71, 0.37, -0.94, 1.00, 0.26, -0.77, -0.71, 0.95, -0.34,
    0.91, -0.99, 0.62, -0.21, -1.00, -0.09, 0.98, -0.79, -0.82, 0.47,
    0.26, -0.99, 0.87, -0.71, -0.50, 0.91, -0.98, 0.37, 0.53, -0.94,
    0.99, -0.85, -0.14, 0.77, -1.00, -0.26, 0.57, -0.77, 0.14, -0.97,
    -0.64, 0.09, 0.97, -0.85, 0.98, 0.47, -0.99, 0.77, -0.93, -0.42,
    0.14, 0.93, -0.97, -0.47, 1.00, -0.62, 0.94, 0.03, -0.99, 0.53,
]
eastness = [
    0.21, 0.99, -0.05, -1.00, 0.64, -0.67, 0.50, 0.97, -0.66, 0.09,
    -0.94, 0.79, -0.17, 0.87, -0.42, 0.14, 0.54, -0.93, 0.94, -0.87,
    -0.09, 0.34, -1.00, 0.64, -0.09, 1.00, -0.77, 0.26, 0.74, -0.62,
    1.00, -0.98, 0.05, -0.29, 0.71, 0.93, -0.34, 0.03, -0.97, 0.42,
    -0.57, 0.37, -0.82, 0.98, 0.14, -0.87, 0.87, -0.17, -0.26, 0.82,
    -1.00, 0.57, 0.07, -0.50, 0.98, -0.53, 0.26, 0.57, -0.97, -0.12,
    0.91, -0.77, -0.26, 0.00, 0.82, -0.98, -0.71, -0.14, 0.17, 0.67,
    0.34, -0.91, 0.31, -0.91, -0.03, 0.97, -0.34, -0.42, 1.00, -1.00,
    -0.26, 0.77, 0.17, -0.82, 0.21, 0.85, -0.97, -0.21, 0.91, -0.74,
    0.50, 0.03, -0.99, 0.53, 0.03, -0.64, 0.98, -0.57, -0.09, 0.95,
    -0.94, 0.42, -0.34, 0.71, -0.47, 0.88, -0.03, 0.09, -1.00, 0.37,
    0.71, -0.95, 0.10, -0.14, 0.99, -0.79, 0.31, -0.71, 0.77, -0.26,
    -0.09, 0.97, -0.71, 0.26, 0.17, -0.88, 0.88, -0.88, 0.00, 0.67,
    -1.00, 0.62, -0.21, -0.57, 1.00, 0.37, -0.17, -0.50, 0.82, 0.14,
    -0.03, -0.87, 0.94, -0.97, 0.47, 0.57, -0.42, -0.34, 0.93, -0.17,
    -0.57, 0.74, 0.26, -0.99, 0.07, 0.77, -0.85, -0.03, -0.05, 1.00,
    -0.64, 0.14, 1.00, 0.47, -0.98, -0.17, 0.21, 0.60, -0.82, -0.73,
    0.07, 0.91, -0.31, 0.88, -0.42, -1.00, 0.53, 0.34, -0.21, -0.91,
    0.98, -0.10, -0.79, 0.79, 0.29, 0.26, -0.98, -0.31, 0.74, -0.09,
    -0.87, 0.17, 0.47, -0.94, 0.98, 0.03, -0.53, 0.57, -0.62, -0.09,
    -1.00, -0.85, -0.71, -0.50, -0.31, 0.00, 0.26, 0.71, 0.88, 1.00,
    -0.34, 0.71, -0.77, 1.00, 0.17, -0.97, 0.34, 0.71, -0.98, -0.17,
    0.87, -0.17, -0.77, 0.94, 0.09, -0.57, 0.50, 0.97, -1.00, -0.57,
    0.50, -0.09, -0.87, 0.82, -0.26, -0.87, 0.34, 1.00, 0.17, -0.94,
    0.50, -0.34, 0.94, -0.50, -0.94, 0.17, 0.87, -0.94, 0.64, 0.26, -0.71, 1.00, -0.17, -0.09,
    0.37, 0.53, -0.99, -0.82, 1.00, -0.31, -0.34, 0.91, -0.77, 0.89,
    0.09, 0.14, -0.97, 0.77, 0.79, -0.53, -0.09, 1.00, -0.93, 0.34,
    -0.77, 0.64, -0.14, -1.00, 0.64, 0.21, -0.71, 0.98, -0.26, 0.26,
    0.85, -0.34, -0.57, 0.97, 0.03, -0.87, 0.42, -0.94, 0.50, -0.03,
    0.71, -1.00, 0.26, -0.21, 0.95, -0.71, 0.17, -0.94, 0.71, -0.14,
    -0.50, 0.99, -0.37, 0.34, 0.42, -1.00, 0.87, 0.09, -0.26, 0.87,
    -0.98, 0.57, 0.57, -0.62, -0.17, 0.99, -0.09, -0.87, 0.93, 0.17,
    0.21, -0.97, 0.74, -0.50, 0.03, 1.00, -0.82, 0.31, 0.62, -0.91,
    0.09, -0.42, 0.82, -0.64, 0.93, 0.14, -0.98, 0.62, -0.57, -0.31,
    0.47, -0.98, 0.47, -0.10, 0.98, -0.09, -0.91, 0.97, 0.37, -0.74,
    -0.26, 0.82, -0.21, 0.74, -1.00, 0.26, -0.64, 1.00, -0.82, 0.07,
    0.67, 0.31, -0.99, 0.05, -0.74, 0.88, -0.42, -0.17, 0.88, -0.95,
    0.54, -0.31, 0.82, -0.17, -0.99, 0.97, 0.42, -0.94, 0.17, -0.79,
    -0.05, 0.74, -0.64, 0.98, -0.57, 0.09, 0.64, -1.00, 0.87, 0.03,
    -0.87, 0.17, 0.34, -0.91, 1.00, -0.31, -0.17, 0.77, -0.97, 0.26,
    0.91, -0.09, -0.42, 0.95, -0.98, 0.26, 0.62, -0.74, -0.77, -0.09,
    -0.94, 0.14, 0.50, -0.57, 0.82, -0.26, 0.98, -1.00, -0.26, 0.31,
    0.47, -0.85, 0.07, -0.82, 1.00, -0.50, -0.03, 0.87, -1.00, 0.71,
    -0.21, -0.71, 0.93, 0.34, 0.03, -0.97, 0.64, -0.71, 0.31, 0.94,
    -0.42, 0.14, 0.79, -0.98, 0.00, 1.00, 0.21, -0.62, 0.57, -0.88,
    0.97, -0.14, -0.50, 0.71, -0.87, 0.42, 0.21, -0.93, 0.85, -0.34,
    -0.14, 0.53, -0.99, 0.64, -0.03, 0.97, -0.82, -0.64, 0.99, 0.26,
    0.77, -1.00, 0.26, -0.53, -0.21, 0.88, -0.10, -0.64, 0.37, -0.91,
    -0.99, 0.37, -0.26, 0.88, 0.05, -0.79, -0.34, 1.00, 0.10, -0.85,
]
burn_doy = [
    0.5665, 0.558, 0.561, 0.5555, 0.558, 0.569, 0.558, 0.5635, 0.5525, 0.561,
    0.558, 0.5555, 0.5665, 0.561, 0.558, 0.558, 0.569, 0.5635, 0.558, 0.5555,
    0.561, 0.5525, 0.558, 0.5665, 0.5555, 0.5635, 0.558, 0.569, 0.561, 0.558,
    0.5555, 0.561, 0.5665, 0.558, 0.5635, 0.558, 0.5525, 0.561, 0.569, 0.5555,
    0.5635, 0.558, 0.561, 0.5665, 0.5555, 0.569, 0.558, 0.5465, 0.558, 0.558,
    0.561, 0.558, 0.5555, 0.5635, 0.5665, 0.558, 0.561, 0.5525, 0.569, 0.558,
    0.558, 0.5665, 0.561, 0.5555, 0.5635, 0.558, 0.558, 0.569, 0.5525, 0.561,
    0.5555, 0.561, 0.569, 0.5665, 0.558, 0.5635, 0.561, 0.549, 0.558, 0.5555,
    0.5665, 0.558, 0.5635, 0.561, 0.5555, 0.558, 0.558, 0.5665, 0.569, 0.561,
    0.558, 0.5555, 0.5635, 0.561, 0.569, 0.558, 0.5665, 0.5525, 0.5555, 0.561,
    0.561, 0.558, 0.5665, 0.5555, 0.5465, 0.5635, 0.558, 0.561, 0.569, 0.5555,
    0.558, 0.561, 0.5555, 0.5665, 0.558, 0.569, 0.5635, 0.558, 0.5525, 0.561,
    0.558, 0.5635, 0.561, 0.5555, 0.5665, 0.558, 0.569, 0.561, 0.5555, 0.558,
    0.5665, 0.5555, 0.558, 0.558, 0.561, 0.5635, 0.5525, 0.569, 0.558, 0.561,
    0.5555, 0.558, 0.5665, 0.561, 0.5635, 0.569, 0.558, 0.5555, 0.561, 0.5665,
    0.561, 0.5525, 0.558, 0.5635, 0.5555, 0.5665, 0.561, 0.558, 0.569, 0.5555,
    0.5635, 0.561, 0.558, 0.5665, 0.5555, 0.558, 0.569, 0.561, 0.5525, 0.558,
    0.5555, 0.558, 0.561, 0.5665, 0.5635, 0.558, 0.5555, 0.569, 0.561, 0.5665,
    0.561, 0.5555, 0.5665, 0.558, 0.5635, 0.558, 0.561, 0.5525, 0.569, 0.5555,
    0.5665, 0.561, 0.5555, 0.558, 0.569, 0.5635, 0.558, 0.561, 0.5555, 0.5665,
    0.5955, 0.5945, 0.5955, 0.5945, 0.5955, 0.5945, 0.5955, 0.5945, 0.5955, 0.5955,
    0.5365, 0.533, 0.5365, 0.5315, 0.5365, 0.533, 0.5365, 0.5365, 0.533, 0.5365,
    0.533, 0.5365, 0.533, 0.5365, 0.5365, 0.533, 0.5365, 0.5315, 0.533, 0.5365,
    0.533, 0.5365, 0.5365, 0.533, 0.5365, 0.5365, 0.533, 0.5365, 0.533, 0.5365,
    0.5525, 0.558, 0.561, 0.5555, 0.5635, 0.5665, 0.558, 0.5535, 0.561, 0.5645, 0.5365, 0.5575, 0.5555, 0.562,
    0.5635, 0.5665, 0.5555, 0.558, 0.561, 0.569, 0.558, 0.5665, 0.5525, 0.561,
    0.569, 0.561, 0.5635, 0.5665, 0.558, 0.5555, 0.561, 0.569, 0.5635, 0.558,
    0.5555, 0.5665, 0.561, 0.5635, 0.569, 0.558, 0.5555, 0.561, 0.558, 0.5665,
    0.558, 0.5635, 0.569, 0.5555, 0.558, 0.561, 0.5665, 0.558, 0.5635, 0.5525,
    0.561, 0.558, 0.5635, 0.569, 0.5555, 0.5665, 0.561, 0.5635, 0.5555, 0.558,
    0.5665, 0.561, 0.558, 0.5555, 0.569, 0.5635, 0.561, 0.5525, 0.558, 0.5665,
    0.5665, 0.5555, 0.561, 0.558, 0.5635, 0.569, 0.5555, 0.558, 0.561, 0.5635,
    0.558, 0.569, 0.5635, 0.561, 0.5555, 0.558, 0.5665, 0.5555, 0.561, 0.569,
    0.5555, 0.558, 0.5665, 0.561, 0.569, 0.5635, 0.558, 0.5555, 0.561, 0.5665,
    0.5635, 0.561, 0.558, 0.569, 0.5555, 0.558, 0.5665, 0.558, 0.569, 0.5525,
    0.561, 0.5635, 0.5555, 0.5665, 0.558, 0.569, 0.561, 0.5635, 0.558, 0.5555,
    0.569, 0.558, 0.5635, 0.561, 0.5555, 0.5665, 0.558, 0.561, 0.5635, 0.569,
    0.561, 0.5665, 0.5555, 0.5635, 0.558, 0.569, 0.561, 0.5665, 0.5555, 0.5635,
    0.5665, 0.561, 0.558, 0.569, 0.5555, 0.5665, 0.5635, 0.561, 0.569, 0.5555,
    0.5635, 0.569, 0.561, 0.558, 0.5665, 0.5555, 0.561, 0.5635, 0.5525, 0.569,
    0.5555, 0.561, 0.5635, 0.5665, 0.561, 0.558, 0.569, 0.5555, 0.5635, 0.561,
    0.561, 0.5665, 0.5635, 0.5555, 0.569, 0.561, 0.558, 0.5665, 0.5555, 0.5635,
    0.569, 0.5555, 0.561, 0.5635, 0.5665, 0.561, 0.558, 0.569, 0.5555, 0.5635,
    0.5555, 0.5635, 0.5665, 0.561, 0.5555, 0.569, 0.5635, 0.558, 0.5665, 0.561,
    0.5635, 0.5555, 0.5665, 0.561, 0.569, 0.5635, 0.5525, 0.5665, 0.561, 0.5555,
    0.5665, 0.561, 0.5555, 0.569, 0.5635, 0.558, 0.561, 0.5665, 0.5555, 0.569,
    0.561, 0.5635, 0.5555, 0.558, 0.5665, 0.569, 0.561, 0.5635, 0.5665, 0.5555,
    0.5635, 0.558, 0.5665, 0.5555, 0.561, 0.5635, 0.569, 0.561, 0.5555, 0.5665,
    0.569, 0.5555, 0.561, 0.5665, 0.5635, 0.5555, 0.561, 0.569, 0.558, 0.5635,
]
dnbr = [
    0.43, 0.52, 0.92, 0.47, 0.61, 0.84, 0.55, 0.66, 0.71, 0.58,
    0.57, 0.63, 0.81, 0.44, 0.54, 0.50, 0.42, 0.78, 0.69, 0.88,
    0.48, 0.45, 0.65, 0.60, 0.68, 0.73, 0.53, 0.86, 0.76, 0.46,
    0.59, 0.79, 0.49, 0.67, 0.74, 0.51, 0.90, 0.41, 0.44, 0.62,
    0.82, 0.97, 0.45, 0.56, 0.68, 0.43, 0.58, 0.64, 0.50, 0.70,
    0.42, 0.61, 0.47, 0.80, 0.93, 0.74, 0.87, 0.48, 0.53, 0.42,
    0.41, 0.54, 0.66, 0.45, 0.49, 0.60, 0.52, 0.75, 0.99, 0.85,
    0.63, 0.57, 0.70, 0.77, 0.83, 0.89, 0.43, 0.46, 0.96, 0.44,
    0.79, 0.42, 0.86, 0.51, 0.55, 0.68, 0.47, 0.91, 0.59, 0.48,
    0.45, 0.94, 0.53, 0.64, 0.62, 0.44, 0.80, 0.50, 0.76, 0.73,
    1.03, 0.58, 0.46, 0.48, 0.65, 0.41, 0.72, 0.83, 0.52, 0.85,
    0.56, 0.67, 0.60, 0.90, 0.47, 0.43, 0.50, 0.54, 0.74, 0.78,
    0.63, 0.55, 0.61, 0.42, 0.77, 0.81, 0.44, 0.73, 0.88, 0.46,
    0.45, 0.73, 0.43, 0.57, 0.84, 0.70, 0.59, 0.49, 0.75, 0.98,
    0.71, 0.87, 0.97, 0.66, 0.68, 0.42, 0.82, 0.51, 0.46, 0.58,
    0.52, 0.48, 0.41, 0.44, 0.62, 0.76, 0.85, 0.93, 0.65, 0.56,
    0.43, 0.47, 0.57, 0.79, 0.89, 0.52, 0.50, 0.60, 0.72, 1.01,
    0.74, 0.80, 0.69, 0.53, 0.48, 0.45, 0.91, 0.63, 0.42, 0.59,
    0.66, 0.61, 0.87, 0.70, 0.44, 0.83, 0.54, 0.46, 0.58, 0.50,
    0.55, 0.47, 0.57, 0.59, 0.78, 0.71, 0.43, 0.82, 0.95, 0.76,
    0.45, 0.52, 0.48, 0.58, 0.62, 0.69, 0.74, 0.80, 0.44, 0.78,
    0.62, 0.48, 0.85, 0.53, 0.44, 0.71, 0.57, 0.92, 0.46, 0.66,
    0.51, 0.78, 0.43, 0.59, 0.88, 0.47, 0.69, 0.55, 0.81, 0.42,
    0.64, 0.50, 0.74, 0.45, 0.58, 0.95, 0.49, 0.67, 0.52, 0.61,
    0.88, 0.45, 0.72, 0.52, 0.60, 0.79, 0.48, 0.66, 0.42, 0.84, 0.55, 0.70, 0.50, 0.63,
    0.52, 0.78, 0.44, 0.63, 0.86, 0.49, 0.58, 0.71, 0.46, 0.67,
    0.61, 0.47, 0.82, 0.55, 0.69, 0.90, 0.43, 0.74, 0.51, 0.64,
    0.45, 0.59, 0.76, 0.42, 0.88, 0.53, 0.66, 0.48, 0.80, 0.72,
    0.70, 0.56, 0.41, 0.83, 0.60, 0.46, 0.93, 0.50, 0.65, 0.54,
    0.77, 0.44, 0.62, 0.51, 0.47, 0.73, 0.57, 0.85, 0.43, 0.68,
    0.50, 0.81, 0.58, 0.66, 0.42, 0.75, 0.48, 0.60, 0.89, 0.45,
    0.63, 0.46, 0.71, 0.55, 0.79, 0.41, 0.84, 0.52, 0.67, 0.74,
    0.43, 0.68, 0.54, 0.87, 0.49, 0.62, 0.76, 0.45, 0.70, 0.57,
    0.80, 0.51, 0.64, 0.44, 0.91, 0.56, 0.69, 0.78, 0.42, 0.60,
    0.55, 0.73, 0.47, 0.65, 0.58, 0.83, 0.50, 0.62, 0.77, 0.44,
    0.66, 0.48, 0.81, 0.59, 0.43, 0.70, 0.53, 0.79, 0.61, 0.92,
    0.46, 0.64, 0.72, 0.50, 0.75, 0.41, 0.60, 0.56, 0.86, 0.69,
    0.48, 0.71, 0.42, 0.60, 0.83, 0.53, 0.45, 0.67, 0.90, 0.56,
    0.64, 0.44, 0.77, 0.50, 0.59, 0.87, 0.47, 0.72, 0.41, 0.62,
    0.55, 0.81, 0.46, 0.69, 0.43, 0.58, 0.94, 0.51, 0.74, 0.49,
    0.42, 0.63, 0.88, 0.47, 0.70, 0.54, 0.45, 0.79, 0.61, 0.52,
    0.73, 0.50, 0.57, 0.85, 0.44, 0.66, 0.59, 0.41, 0.78, 0.48,
    0.46, 0.92, 0.53, 0.62, 0.76, 0.43, 0.68, 0.56, 0.49, 0.84,
    0.60, 0.45, 0.80, 0.51, 0.64, 0.71, 0.42, 0.89, 0.55, 0.67,
    0.83, 0.57, 0.48, 0.75, 0.52, 0.44, 0.63, 0.70, 0.46, 0.96,
    0.50, 0.68, 0.61, 0.43, 0.86, 0.55, 0.77, 0.47, 0.65, 0.58,
    0.69, 0.41, 0.74, 0.58, 0.47, 0.82, 0.53, 0.64, 0.90, 0.45,
    0.44, 0.79, 0.51, 0.66, 0.60, 0.48, 0.87, 0.42, 0.72, 0.56,
    0.62, 0.47, 0.93, 0.54, 0.43, 0.70, 0.58, 0.81, 0.49, 0.65,
]
columns = [ndvi, ndmi, sum_lst, elevation, slope, northness, eastness, burn_doy, dnbr]

# axis ranges and breaks per variable
axis_limits = [(-27.0, 74.0), (-21.7, 23.5), (-3.85, 5.63), (1.33, 7.72), (-0.49, 10.73),
               (-1.1, 1.1), (-1.1, 1.1), (0.528, 0.5993), (0.379, 1.067)]
major_breaks = [[-25, 0, 25, 50], [-20, -10, 0, 10, 20], [-2, 0, 2, 4], [2, 4, 6],
                [0, 2.5, 5, 7.5, 10], [-1, -0.5, 0, 0.5, 1], [-1, -0.5, 0, 0.5, 1],
                [0.54, 0.56, 0.58], [0.4, 0.6, 0.8, 1.0]]
minor_breaks = [[-12.5, 12.5, 37.5, 62.5], [-15, -5, 5, 15], [-3, -1, 1, 3, 5], [3, 5, 7],
                [1.25, 3.75, 6.25, 8.75], [-0.75, -0.25, 0.25, 0.75], [-0.75, -0.25, 0.25, 0.75],
                [0.53, 0.55, 0.57, 0.59], [0.5, 0.7, 0.9]]
tick_labels = [["-25", "0", "25", "50"], ["-20", "-10", "0", "10", "20"], ["-2", "0", "2", "4"],
               ["2", "4", "6"], ["0.0", "2.5", "5.0", "7.5", "10.0"],
               ["-1.0", "-0.5", "0.0", "0.5", "1.0"], ["-1.0", "-0.5", "0.0", "0.5", "1.0"],
               ["0.54", "0.56", "0.58"], ["0.4", "0.6", "0.8", "1.0"]]

# diagonal density curves (NDVI in density units, others relative)
dens_x = [
    [-22.5, -15, -8, -2.5, -1.7, -0.8, -0.4, 0.0, 0.4, 0.8, 1.2, 1.7, 2.1, 2.5, 2.9, 3.3, 3.8,
     4.2, 4.7, 5.0, 5.3, 5.6, 6.0, 6.3, 6.7, 7.5, 9.2, 10.8, 12.2, 13.3, 15.0, 17.5, 20.0,
     22.5, 28.0, 32.5, 39.0, 42.5, 49.0, 59.0, 68.3],
    [-19.6, -17.4, -15.2, -12.9, -10.7, -8.5, -7.0, -5.5, -4.0, -3.2, -2.5, -1.7, -1.0, -0.25,
     0.35, 0.86, 1.45, 2.0, 2.35, 2.9, 3.6, 4.6, 6.1, 7.2, 8.7, 9.4, 11.7, 13.2, 16.5, 17.6, 21.4],
    [-3.42, -3.25, -3.15, -3.01, -2.87, -2.74, -2.65, -2.54, -1.39, -1.25, -0.98, -0.78, -0.64,
     -0.55, -0.44, -0.30, -0.17, -0.03, 0.10, 0.24, 0.31, 0.37, 0.44, 0.54, 0.65, 0.78, 0.92,
     1.05, 1.19, 1.59, 2.0, 2.41, 2.68, 3.09, 3.62, 4.17, 4.71, 5.05, 5.14],
    [1.62, 1.76, 1.92, 2.03, 2.19, 2.31, 2.54, 2.72, 2.90, 3.04, 3.17, 3.27, 3.45, 3.59, 3.75,
     3.95, 4.13, 4.27, 4.41, 4.54, 4.68, 4.84, 4.95, 5.09, 5.23, 5.37, 5.55, 5.73, 5.91, 6.10,
     6.28, 6.46, 6.64, 6.87, 7.05, 7.19, 7.42],
    [0.0, 0.10, 0.22, 0.31, 0.42, 0.58, 0.74, 0.90, 1.07, 1.27, 1.47, 1.63, 1.82, 2.11, 2.35,
     2.56, 2.75, 2.99, 3.31, 3.71, 4.03, 4.43, 4.75, 5.07, 5.47, 5.79, 6.27, 6.68, 7.08, 7.56,
     8.52, 9.16, 9.64, 10.2],
    [-1.005, -0.958, -0.92, -0.87, -0.825, -0.76, -0.70, -0.62, -0.526, -0.40, -0.305, -0.226,
     -0.147, -0.068, 0.027, 0.153, 0.28, 0.437, 0.563, 0.642, 0.72, 0.80, 0.879, 0.942, 0.99, 1.014],
    [-1.005, -0.958, -0.91, -0.854, -0.79, -0.697, -0.618, -0.53, -0.46, -0.366, -0.224, -0.098,
     0.028, 0.123, 0.218, 0.328, 0.486, 0.55, 0.61, 0.665, 0.738, 0.816, 0.88, 0.94, 0.98, 1.005],
    [0.5314, 0.5329, 0.5342, 0.5355, 0.5365, 0.5375, 0.5391, 0.5406, 0.5467, 0.5483, 0.5498,
     0.5508, 0.5524, 0.5534, 0.5547, 0.5554, 0.5562, 0.557, 0.5576, 0.5581, 0.5586, 0.5592,
     0.5598, 0.5605, 0.561, 0.5616, 0.5623, 0.5631, 0.5637, 0.5645, 0.5654, 0.566, 0.5665,
     0.567, 0.5676, 0.5684, 0.5691, 0.5697, 0.5705, 0.5715, 0.5918, 0.5928, 0.5936, 0.5947, 0.5957],
    [0.409, 0.424, 0.44, 0.455, 0.476, 0.485, 0.50, 0.521, 0.543, 0.558, 0.582, 0.597, 0.618,
     0.643, 0.664, 0.694, 0.718, 0.743, 0.764, 0.794, 0.824, 0.855, 0.885, 0.924, 0.961, 0.991, 1.021],
]
dens_y = [
    [0.0, 0.001, 0.002, 0.003, 0.01, 0.07, 0.09, 0.105, 0.115, 0.118, 0.11, 0.09, 0.07, 0.05,
     0.04, 0.036, 0.045, 0.07, 0.15, 0.21, 0.237, 0.21, 0.15, 0.07, 0.02, 0.014, 0.012, 0.015,
     0.012, 0.008, 0.007, 0.004, 0.006, 0.002, 0.002, 0.001, 0.002, 0.0, 0.0, 0.001, 0.0],
    [0.004, 0.0, 0.007, 0.018, 0.025, 0.04, 0.066, 0.075, 0.084, 0.10, 0.255, 0.32, 0.45, 0.41,
     0.61, 0.865, 1.0, 0.865, 0.61, 0.43, 0.165, 0.04, 0.004, 0.0, 0.018, 0.0, 0.01, 0.0, 0.01,
     0.0, 0.004],
    [0.016, 0.093, 0.016, 0.043, 0.047, 0.124, 0.062, 0.0, 0.0, 0.008, 0.01, 0.003, 0.062,
     0.062, 0.186, 0.5, 0.84, 1.0, 0.87, 0.56, 0.45, 0.57, 0.47, 0.28, 0.093, 0.047, 0.031,
     0.034, 0.008, 0.016, 0.008, 0.023, 0.003, 0.008, 0.003, 0.0, 0.003, 0.0, 0.019],
    [0.04, 0.056, 0.066, 0.046, 0.025, 0.056, 0.097, 0.182, 0.185, 0.228, 0.336, 0.39, 0.375,
     0.43, 0.40, 0.57, 0.74, 0.74, 0.70, 0.83, 0.89, 1.0, 0.91, 0.69, 0.54, 0.45, 0.38, 0.35,
     0.26, 0.228, 0.26, 0.167, 0.128, 0.167, 0.059, 0.043, 0.023],
    [0.38, 0.81, 0.98, 1.0, 0.89, 0.645, 0.57, 0.43, 0.32, 0.25, 0.23, 0.167, 0.128, 0.093,
     0.082, 0.082, 0.113, 0.074, 0.097, 0.09, 0.074, 0.077, 0.059, 0.059, 0.02, 0.025, 0.043,
     0.015, 0.02, 0.005, 0.005, 0.01, 0.003, 0.005],
    [0.89, 1.0, 0.915, 0.73, 0.59, 0.53, 0.45, 0.36, 0.305, 0.28, 0.31, 0.344, 0.305, 0.29,
     0.298, 0.27, 0.298, 0.302, 0.30, 0.36, 0.48, 0.68, 0.87, 0.885, 0.82, 0.74],
    [0.79, 0.915, 0.83, 0.63, 0.56, 0.52, 0.43, 0.39, 0.46, 0.50, 0.46, 0.475, 0.46, 0.468,
     0.42, 0.39, 0.42, 0.46, 0.56, 0.576, 0.537, 0.676, 0.89, 1.0, 0.954, 0.853],
    [0.005, 0.028, 0.008, 0.066, 0.113, 0.012, 0.02, 0.0, 0.008, 0.0, 0.008, 0.0, 0.082, 0.02,
     0.159, 0.236, 0.09, 0.39, 0.93, 1.0, 0.776, 0.174, 0.159, 0.39, 0.55, 0.313, 0.066, 0.128,
     0.167, 0.066, 0.097, 0.437, 0.49, 0.313, 0.082, 0.313, 0.33, 0.159, 0.012, 0.0, 0.0,
     0.012, 0.005, 0.003, 0.028],
    [0.53, 0.84, 1.0, 0.93, 0.816, 0.80, 0.86, 0.73, 0.69, 0.717, 0.65, 0.69, 0.705, 0.58,
     0.512, 0.494, 0.444, 0.37, 0.42, 0.345, 0.27, 0.22, 0.159, 0.072, 0.041, 0.01, 0.007],
]
diag_grid_step = [0.025, 0.12, 0.18, 0.096, 0.127, 0.12, 0.117, 0.117, 0.143]

corr_labels = [
    ["-0.500***", "-0.266***", "-0.039***", "0.030***", "-0.089***", "0.017***", "-0.186***", "0.048***"],
    ["0.110***", "0.019***", "-0.057***", "-0.006", "0.009*", "0.155***", "-0.109***"],
    ["0.096***", "0.025***", "0.010*", "-0.033***", "0.170***", "0.090***"],
    ["0.119***", "0.101***", "-0.036***", "-0.141***", "0.125***"],
    ["-0.087***", "-0.078***", "-0.037***", "0.471***"],
    ["0.012**", "0.057***", "-0.087***"],
    ["0.037***", "-0.043***"],
    ["0.051***"],
]

# ---------------------------------------------------------------- layout (pixels)
W, H = 3000, 3000
left0, col_pitch, pw = 115, 312, 291
top0, row_pitch, ph = 95, 316, 294
strip_top, strip_h = 22, 70
rstrip_x, strip_w = 2906, 70

panel_bg = '#EBEBEB'
strip_bg = '#D9D9D9'

fig = plt.figure(figsize=(10, 10), dpi=300)
fig.patch.set_facecolor('white')
n = len(var_names)

for i in range(n):
    for j in range(n):
        x0 = left0 + j * col_pitch
        y0 = top0 + i * row_pitch
        ax = fig.add_axes([x0 / W, 1 - (y0 + ph) / H, pw / W, ph / H])
        ax.set_xlim(axis_limits[j])

        if i < j:
            # upper triangle: correlation text
            ax.set_facecolor('white')
            for s in ax.spines.values():
                s.set_color(panel_bg)
                s.set_linewidth(0.6)
            ax.set_xticks([])
            ax.set_yticks([])
            ax.text(0.5, 0.5, "Corr:\n" + corr_labels[i][j - i - 1], transform=ax.transAxes,
                    ha='center', va='center', fontsize=10.8, color='#6E6E6E', linespacing=1.6)
            continue

        ax.set_facecolor(panel_bg)
        for s in ax.spines.values():
            s.set_visible(False)
        ax.set_xticks(major_breaks[j])
        ax.set_xticks(minor_breaks[j], minor=True)

        if i == j:
            ys = dens_y[i]
            peak = max(ys)
            step = diag_grid_step[i]
            top = 1.05 * peak
            ymaj = [2 * m * step for m in range(40) if 2 * m * step <= top]
            ymin = [(2 * m + 1) * step for m in range(40) if (2 * m + 1) * step <= top]
            ax.set_yticks(ymaj)
            ax.set_yticks(ymin, minor=True)
            ax.plot(dens_x[i], ys, color='black', lw=0.8, solid_joinstyle='round')
            ax.set_ylim(-0.05 * peak, top)
            if j == 0:
                ax.yaxis.set_major_formatter(FormatStrFormatter('%.2f'))
        else:
            ax.set_yticks(major_breaks[i])
            ax.set_yticks(minor_breaks[i], minor=True)
            ax.scatter(columns[j], columns[i], s=24, c='black', linewidths=0)
            ax.set_ylim(axis_limits[i])
            if j == 0:
                ax.set_yticklabels(tick_labels[i])

        ax.set_xlim(axis_limits[j])
        ax.set_axisbelow(True)
        ax.grid(which='major', color='white', lw=0.7)
        ax.grid(which='minor', color='white', lw=0.35)
        ax.tick_params(which='minor', length=0)
        ax.tick_params(which='major', length=2.6, width=0.55, color='#333333',
                       labelsize=8.3, labelcolor='#4D4D4D', pad=2.0)
        if i == n - 1:
            ax.set_xticklabels(tick_labels[j])
        else:
            ax.tick_params(axis='x', which='major', length=0, labelbottom=False)
        if j != 0:
            ax.tick_params(axis='y', which='major', length=0, labelleft=False)

# strips
for j in range(n):
    x0 = left0 + j * col_pitch
    sax = fig.add_axes([x0 / W, 1 - (strip_top + strip_h) / H, pw / W, strip_h / H])
    sax.set_facecolor(strip_bg)
    sax.set_xticks([])
    sax.set_yticks([])
    for s in sax.spines.values():
        s.set_visible(False)
    sax.text(0.5, 0.5, var_names[j], transform=sax.transAxes, ha='center', va='center',
             fontsize=8.7, color='#1A1A1A', clip_on=True)

for i in range(n):
    y0 = top0 + i * row_pitch
    sax = fig.add_axes([rstrip_x / W, 1 - (y0 + ph) / H, strip_w / W, ph / H])
    sax.set_facecolor(strip_bg)
    sax.set_xticks([])
    sax.set_yticks([])
    for s in sax.spines.values():
        s.set_visible(False)
    sax.text(0.5, 0.5, var_names[i], transform=sax.transAxes, ha='center', va='center',
             rotation=-90, fontsize=8.7, color='#1A1A1A', clip_on=True)

fig.savefig("out.png", dpi=300, facecolor='white')
